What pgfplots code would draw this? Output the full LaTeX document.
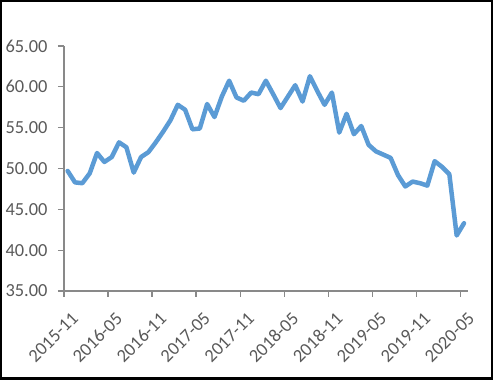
\documentclass[border=0pt]{standalone}
\usepackage{pgfplots}
\pgfplotsset{compat=1.18}
\usepackage{fontspec}
\setmainfont{Carlito}
\definecolor{linblue}{HTML}{5B9BD5}
\definecolor{axisgray}{HTML}{898989}
\definecolor{txtgray}{HTML}{595959}
\begin{document}
\begin{tikzpicture}
\path[use as bounding box] (-64pt,-89pt) rectangle (429pt,291pt);
\begin{axis}[
  scale only axis,
  width=403.7pt, height=245pt,
  xmin=0, xmax=55, ymin=35, ymax=65,
  axis x line*=bottom, axis y line*=left,
  axis line style={draw=axisgray, line width=1.3pt, -},
  ytick={35,40,...,65},
  tick align=outside,
  major tick length=6pt,
  ytick style={draw=axisgray, line width=1.3pt},
  yticklabel style={xshift=-7pt, /pgf/number format/.cd, fixed, fixed zerofill, precision=2},
  /pgf/number format/assume math mode=true,
  ticklabel style={font=\fontsize{18.4}{22}\selectfont, text=txtgray},
  xtick={0.5,6.5,12.5,18.5,24.5,30.5,36.5,42.5,48.5,54.5},
  xticklabels={2015-11,2016-05,2016-11,2017-05,2017-11,2018-05,2018-11,2019-05,2019-11,2020-05},
  xtick style={draw=none},
  xticklabel style={xshift=3pt, yshift=-14pt, rotate=45, anchor=north east, inner sep=0pt},
  extra x ticks={0,6,12,18,24,30,36,42,48,54},
  extra x tick labels={},
  extra x tick style={xtick style={draw=axisgray, line width=1.3pt}},
  clip=false,
]
\addplot[linblue, line width=4.5pt, line join=round, line cap=round, mark=none] coordinates {
(0.5,49.7) (1.5,48.3) (2.5,48.2) (3.5,49.4) (4.5,51.9) (5.5,50.8) (6.5,51.4) (7.5,53.2)
(8.5,52.6) (9.5,49.5) (10.5,51.4) (11.5,52.0) (12.5,53.2) (13.5,54.5) (14.5,55.9) (15.5,57.8)
(16.5,57.2) (17.5,54.8) (18.5,54.9) (19.5,57.9) (20.5,56.3) (21.5,58.8) (22.5,60.75) (23.5,58.7)
(24.5,58.3) (25.5,59.3) (26.5,59.1) (27.5,60.75) (28.5,59.1) (29.5,57.4) (30.5,58.8) (31.5,60.2)
(32.5,58.2) (33.5,61.3) (34.5,59.5) (35.5,57.8) (36.5,59.3) (37.5,54.4) (38.5,56.7) (39.5,54.2)
(40.5,55.2) (41.5,52.9) (42.5,52.1) (43.5,51.7) (44.5,51.3) (45.5,49.2) (46.5,47.8) (47.5,48.4)
(48.5,48.2) (49.5,47.9) (50.5,50.9) (51.5,50.2) (52.5,49.3) (53.5,41.8) (54.5,43.3)
};
\end{axis}
\draw[black, line width=2.5pt] (-62.75pt,-87.75pt) rectangle (427.75pt,289.75pt);
\end{tikzpicture}
\end{document}
